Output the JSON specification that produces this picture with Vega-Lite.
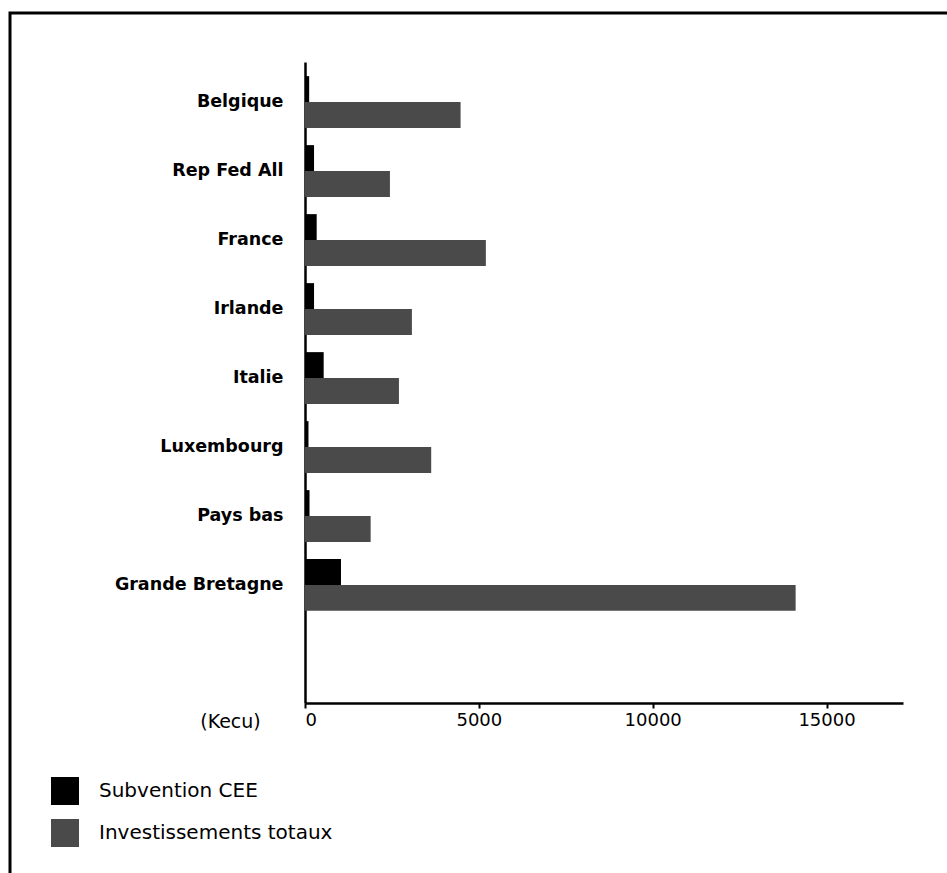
{
  "$schema": "https://vega.github.io/schema/vega-lite/v6.json",
  "autosize": {"type": "none"},
  "padding": {"left": 10, "top": 13, "right": -23, "bottom": -20},
  "width": 960,
  "height": 880,
  "background": "white",
  "config": {
    "view": {"stroke": "black", "strokeWidth": 3, "fill": null},
    "font": "DejaVu Sans"
  },
  "data": {
    "values": [
      {"pays": "Belgique", "serie": "Subvention CEE", "kecu": 120},
      {"pays": "Belgique", "serie": "Investissements totaux", "kecu": 4475},
      {"pays": "Rep Fed All", "serie": "Subvention CEE", "kecu": 260},
      {"pays": "Rep Fed All", "serie": "Investissements totaux", "kecu": 2443},
      {"pays": "France", "serie": "Subvention CEE", "kecu": 336},
      {"pays": "France", "serie": "Investissements totaux", "kecu": 5202},
      {"pays": "Irlande", "serie": "Subvention CEE", "kecu": 260},
      {"pays": "Irlande", "serie": "Investissements totaux", "kecu": 3075},
      {"pays": "Italie", "serie": "Subvention CEE", "kecu": 537},
      {"pays": "Italie", "serie": "Investissements totaux", "kecu": 2702},
      {"pays": "Luxembourg", "serie": "Subvention CEE", "kecu": 100},
      {"pays": "Luxembourg", "serie": "Investissements totaux", "kecu": 3630},
      {"pays": "Pays bas", "serie": "Subvention CEE", "kecu": 130},
      {"pays": "Pays bas", "serie": "Investissements totaux", "kecu": 1888},
      {"pays": "Grande Bretagne", "serie": "Subvention CEE", "kecu": 1035},
      {"pays": "Grande Bretagne", "serie": "Investissements totaux", "kecu": 14112}
    ]
  },
  "mark": {"type": "bar"},
  "encoding": {
    "y": {
      "field": "pays",
      "type": "nominal",
      "sort": ["Belgique", "Rep Fed All", "France", "Irlande", "Italie", "Luxembourg", "Pays bas", "Grande Bretagne"],
      "scale": {"range": [49, 690], "paddingInner": 0.25, "paddingOuter": 0.77, "align": 0.133},
      "axis": {
        "title": null,
        "orient": "left",
        "offset": -295,
        "domainColor": "black",
        "domainWidth": 2.5,
        "ticks": false,
        "labelPadding": 22,
        "labelFontSize": 17.5,
        "labelFontWeight": "bold",
        "labelColor": "black",
        "labelLimit": 300
      }
    },
    "yOffset": {
      "field": "serie",
      "type": "nominal",
      "sort": ["Subvention CEE", "Investissements totaux"],
      "scale": {"paddingInner": 0, "paddingOuter": 0}
    },
    "x": {
      "field": "kecu",
      "type": "quantitative",
      "scale": {"domain": [0, 17200], "range": [295, 893], "nice": false},
      "axis": {
        "orient": "bottom",
        "offset": -190,
        "values": [0, 5000, 10000, 15000],
        "format": "d",
        "grid": false,
        "domainColor": "black",
        "domainWidth": 2.5,
        "tickColor": "black",
        "tickSize": 5,
        "tickWidth": 2,
        "labelFontSize": 18,
        "labelColor": "black",
        "labelPadding": 3,
        "labelDx": 9,
        "title": "(Kecu)",
        "titleX": 220,
        "titleY": 18,
        "titleAlign": "center",
        "titleBaseline": "middle",
        "titleFontSize": 19,
        "titleFontWeight": "normal",
        "titleColor": "black"
      }
    },
    "color": {
      "field": "serie",
      "type": "nominal",
      "scale": {"domain": ["Subvention CEE", "Investissements totaux"], "range": ["#000000", "#4a4a4a"]},
      "legend": {
        "title": null,
        "orient": "none",
        "legendX": 41,
        "legendY": 764,
        "symbolType": "square",
        "symbolSize": 784,
        "symbolStrokeWidth": 0,
        "symbolOpacity": 1,
        "labelFontSize": 20,
        "labelColor": "black",
        "labelOffset": 20,
        "labelLimit": 400,
        "rowPadding": 14
      }
    }
  }
}
